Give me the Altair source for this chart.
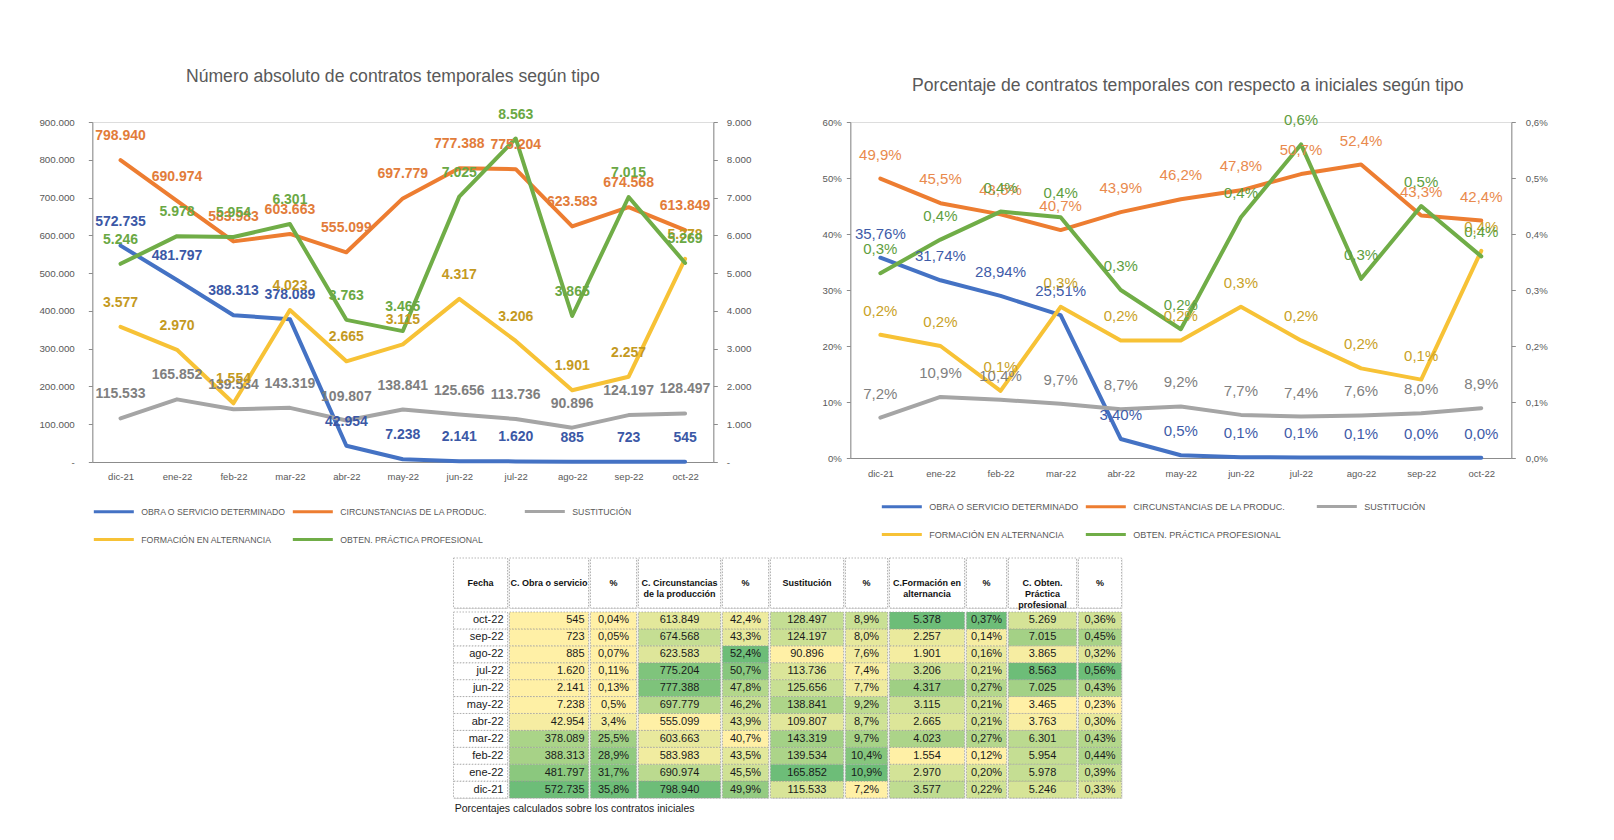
import altair as alt
import pandas as pd

# ---------------- data ----------------
meses = ["dic-21", "ene-22", "feb-22", "mar-22", "abr-22", "may-22",
         "jun-22", "jul-22", "ago-22", "sep-22", "oct-22"]
series = ["OBRA O SERVICIO DETERMINADO", "CIRCUNSTANCIAS DE LA PRODUC.", "SUSTITUCIÓN",
          "FORMACIÓN EN ALTERNANCIA", "OBTEN. PRÁCTICA PROFESIONAL"]

obra = [572735, 481797, 388313, 378089, 42954, 7238, 2141, 1620, 885, 723, 545]
circ = [798940, 690974, 583983, 603663, 555099, 697779, 777388, 775204, 623583, 674568, 613849]
sust = [115533, 165852, 139534, 143319, 109807, 138841, 125656, 113736, 90896, 124197, 128497]
form = [3577, 2970, 1554, 4023, 2665, 3115, 4317, 3206, 1901, 2257, 5378]
obten = [5246, 5978, 5954, 6301, 3763, 3465, 7025, 8563, 3865, 7015, 5269]

obra_pct = [35.76, 31.74, 28.94, 25.51, 3.40, 0.5, 0.13, 0.11, 0.07, 0.05, 0.04]
circ_pct = [49.9, 45.5, 43.5, 40.7, 43.9, 46.2, 47.8, 50.7, 52.4, 43.3, 42.4]
sust_pct = [7.2, 10.9, 10.4, 9.7, 8.7, 9.2, 7.7, 7.4, 7.6, 8.0, 8.9]
form_pct = [0.22, 0.20, 0.12, 0.27, 0.21, 0.21, 0.27, 0.21, 0.16, 0.14, 0.37]
obten_pct = [0.33, 0.39, 0.44, 0.43, 0.30, 0.23, 0.43, 0.56, 0.32, 0.45, 0.36]

obra_pct_etiquetas = ["35,76%", "31,74%", "28,94%", "25,51%", "3,40%", "0,5%",
                      "0,1%", "0,1%", "0,1%", "0,0%", "0,0%"]
obra_pct_tabla = ["35,8%", "31,7%", "28,9%", "25,5%", "3,4%", "0,5%",
                  "0,13%", "0,11%", "0,07%", "0,05%", "0,04%"]

cabeceras = ["Fecha", "C. Obra o servicio", "%", "C. Circunstancias\nde la producción", "%",
             "Sustitución", "%", "C.Formación en\nalternancia", "%",
             "C. Obten.\nPráctica\nprofesional", "%"]

titulo1 = "Número absoluto de contratos temporales según tipo"
titulo2 = "Porcentaje de contratos temporales con respecto a iniciales según tipo"
nota = "Porcentajes calculados sobre los contratos iniciales"

# ---------------- styles ----------------
FONT = "Liberation Sans"
line_colors = ["#4472C4", "#ED7D31", "#A5A5A5", "#F7C236", "#70AD47"]
text_colors = ["#3B58A6", "#E27C3A", "#7F7F7F", "#C49A1F", "#6AA844"]
text_colors2 = ["#3E5BA8", "#E98A4D", "#7F7F7F", "#C9A227", "#5E9E3E"]
heat_range = ["#FFF0A6", "#C4DE93", "#6DBD78"]
col_widths = [54, 79, 46, 82, 46, 73, 42, 75, 40, 68, 43]


def miles(v):
    return f"{v:,}".replace(",", ".")


def pct(v, d):
    return f"{v:.{d}f}".replace(".", ",") + "%"


# ---------------- long tables ----------------
rows1 = []
for s, vals, eje in zip(series, [obra, circ, sust, form, obten], ["izq", "izq", "izq", "der", "der"]):
    for m, v in zip(meses, vals):
        rows1.append({"mes": m, "serie": s, "valor": v, "etiqueta": miles(v), "eje": eje})
df1 = pd.DataFrame(rows1)

labels2 = [obra_pct_etiquetas,
           [pct(v, 1) for v in circ_pct],
           [pct(v, 1) for v in sust_pct],
           [pct(v, 1) for v in form_pct],
           [pct(v, 1) for v in obten_pct]]
rows2 = []
for s, vals, labs, eje in zip(series, [obra_pct, circ_pct, sust_pct, form_pct, obten_pct], labels2,
                              ["izq", "izq", "izq", "der", "der"]):
    for m, v, l in zip(meses, vals, labs):
        rows2.append({"mes": m, "serie": s, "valor": v, "etiqueta": l, "eje": eje})
df2 = pd.DataFrame(rows2)

main_series = [series[0], series[1], series[3], series[4]]
main_colors = [line_colors[0], line_colors[1], line_colors[3], line_colors[4]]


def line_chart(df, w, h, left_dom, right_dom, left_vals, right_vals, left_expr, right_expr,
               tcolors, weight, tsize, lx, lx2, ly, lfont, title, ylabsize, lpad, rpad, xpad):
    base = alt.Chart(df)
    x = alt.X("mes:N", sort=meses, title=None, scale=alt.Scale(padding=0.5),
              axis=alt.Axis(labelAngle=0, labelFontSize=9.5, labelColor="#595959", labelFont=FONT,
                            domainColor="#8C8C8C", ticks=False, labelPadding=xpad))
    leg = dict(title=None, orient="none", legendY=ly, direction="horizontal",
               symbolType="stroke", symbolStrokeWidth=3, symbolSize=1600,
               labelFontSize=lfont, labelColor="#595959", labelFont=FONT, rowPadding=0,
               columnPadding=0, labelOffset=6, labelLimit=400)
    color = alt.Color("serie:N", scale=alt.Scale(domain=main_series, range=main_colors),
                      legend=alt.Legend(legendX=lx, columns=2, **leg))
    stroke = alt.Stroke("serie:N", scale=alt.Scale(domain=[series[2]], range=[line_colors[2]]),
                        legend=alt.Legend(legendX=lx2, columns=1, **leg))
    fill = alt.Fill("serie:N", scale=alt.Scale(domain=series, range=tcolors), legend=None)
    ax = dict(labelFontSize=ylabsize, labelColor="#595959", labelFont=FONT, domainColor="#8C8C8C",
              tickColor="#8C8C8C", tickSize=4, grid=False)
    yl = alt.Y("valor:Q", title=None, scale=alt.Scale(domain=left_dom),
               axis=alt.Axis(orient="left", values=left_vals, labelExpr=left_expr,
                             labelPadding=lpad, **ax))
    yr = alt.Y("valor:Q", title=None, scale=alt.Scale(domain=right_dom),
               axis=alt.Axis(orient="right", values=right_vals, labelExpr=right_expr,
                             labelPadding=rpad, **ax))
    yl_n = alt.Y("valor:Q", scale=alt.Scale(domain=left_dom), axis=None)
    yr_n = alt.Y("valor:Q", scale=alt.Scale(domain=right_dom), axis=None)
    sust_name = series[2]
    izq_main = base.transform_filter(f"datum.eje == 'izq' && datum.serie != '{sust_name}'")
    izq_sust = base.transform_filter(f"datum.serie == '{sust_name}'")
    izq = base.transform_filter("datum.eje == 'izq'")
    der = base.transform_filter("datum.eje == 'der'")
    lk = dict(strokeWidth=4, strokeJoin="round", strokeCap="round")
    tk = dict(dy=-24, fontSize=tsize, fontWeight=weight, font=FONT)
    l1 = izq_main.mark_line(**lk).encode(x=x, y=yl, color=color)
    l1s = izq_sust.mark_line(**lk).encode(x=x, y=yl_n, stroke=stroke)
    l2 = der.mark_line(**lk).encode(x=x, y=yr, color=color)
    t1 = izq.mark_text(**tk).encode(x=x, y=yl_n, text="etiqueta:N", fill=fill)
    t2 = der.mark_text(**tk).encode(x=x, y=yr_n, text="etiqueta:N", fill=fill)
    return alt.layer(l1, l1s, l2, t1, t2).resolve_scale(y="independent").properties(
        width=w, height=h, title=title)


c1 = line_chart(df1, 621, 340, [0, 900000], [0, 9000],
                list(range(0, 900001, 100000)), list(range(0, 9001, 1000)),
                "datum.value == 0 ? '-' : replace(format(datum.value, ','), ',', '.')",
                "datum.value == 0 ? '-' : replace(format(datum.value, ','), ',', '.')",
                text_colors, "bold", 14, 0, 431, 368, 8.7,
                alt.Title(titulo1, fontSize=17.6, fontWeight="normal", color="#595959", font=FONT,
                          anchor="middle", dx=-10, offset=22), 9.8, 14, 9, 9)

c2 = line_chart(df2, 661, 336, [0, 60], [0, 0.6],
                [0, 10, 20, 30, 40, 50, 60], [0, 0.1, 0.2, 0.3, 0.4, 0.5, 0.6],
                "datum.value + '%'",
                "replace(format(datum.value, '.1f'), '.', ',') + '%'",
                text_colors2, "normal", 15, 30, 465, 363, 9,
                alt.Title(titulo2, fontSize=17.6, fontWeight="normal", color="#595959", font=FONT,
                          anchor="middle", dx=7, offset=19), 9.6, 5, 10, 10)

top = alt.hconcat(c1, c2, spacing=69).resolve_scale(
    color="independent", fill="independent", stroke="independent")

# ---------------- table ----------------
fechas_tabla = meses[::-1]
col_values = [None, obra, obra_pct, circ, circ_pct, sust, sust_pct, form, form_pct, obten, obten_pct]
col_texts = [meses,
             [miles(v) for v in obra], obra_pct_tabla,
             [miles(v) for v in circ], [pct(v, 1) for v in circ_pct],
             [miles(v) for v in sust], [pct(v, 1) for v in sust_pct],
             [miles(v) for v in form], [pct(v, 2) for v in form_pct],
             [miles(v) for v in obten], [pct(v, 2) for v in obten_pct]]

band = alt.Scale(paddingInner=0, paddingOuter=0)
cell_stroke = dict(stroke="#9A9A9A", strokeWidth=0.7, strokeDash=[1.5, 1.5])

headers = []
bodies = []
for k in range(11):
    w = col_widths[k]
    hdf = pd.DataFrame({"col": [str(k)], "h": [cabeceras[k]]})
    hb = alt.Chart(hdf)
    hx = alt.X("col:N", axis=None, scale=band)
    hr = hb.mark_rect(fill="white", **cell_stroke).encode(x=hx)
    ht = hb.mark_text(fontWeight="bold", fontSize=9, font=FONT, lineBreak="\n", color="#111",
                      lineHeight=11).encode(x=hx, text="h:N")
    headers.append(alt.layer(hr, ht).properties(width=w, height=50))

    vals = col_values[k]
    bdf = pd.DataFrame({"fecha": meses, "valor": vals if vals is not None else [0] * 11,
                        "texto": col_texts[k], "col": str(k)})
    bb = alt.Chart(bdf)
    yenc = alt.Y("fecha:N", sort=fechas_tabla, axis=None, scale=band)
    bx = alt.X("col:N", axis=None, scale=band)
    if vals is None:
        rect = bb.mark_rect(fill="white", **cell_stroke).encode(x=bx, y=yenc)
    else:
        rect = bb.transform_joinaggregate(vmin="min(valor)", vmax="max(valor)").transform_calculate(
            norm="(datum.valor - datum.vmin) / (datum.vmax - datum.vmin)"
        ).mark_rect(**cell_stroke).encode(
            x=bx, y=yenc,
            color=alt.Color("norm:Q", scale=alt.Scale(domain=[0, 0.5, 1], range=heat_range), legend=None))
    if k in (0, 1):
        txt = bb.mark_text(align="right", dx=-4, fontSize=11, font=FONT, color="#1A1A1A").encode(
            x=alt.X("col:N", axis=None, scale=band, bandPosition=1), y=yenc, text="texto:N")
    else:
        txt = bb.mark_text(align="center", fontSize=11, font=FONT, color="#1A1A1A").encode(
            x=bx, y=yenc, text="texto:N")
    bodies.append(alt.layer(rect, txt).properties(width=w, height=186))

# invisible spacer on the right of the header row (shifts the centred table left)
spacer = alt.Chart(pd.DataFrame({"col": ["s"]})).mark_rect(
    fill="white", fillOpacity=0, strokeOpacity=0, strokeWidth=0).encode(
    x=alt.X("col:N", axis=None, scale=band)).properties(
    width=64, height=50, view=alt.ViewBackground(strokeOpacity=0, strokeWidth=0))
headers.append(spacer)

header_row = alt.hconcat(*headers, spacing=0).resolve_scale(color="independent")
body_row = alt.hconcat(*bodies, spacing=0).resolve_scale(color="independent")
table = alt.vconcat(header_row, body_row, spacing=0,
                    title=alt.Title(nota, orient="bottom", anchor="start", fontSize=10.5,
                                    fontWeight="normal", color="#1A1A1A", font=FONT, offset=5,
                                    dx=2)
                    ).resolve_scale(color="independent")

chart = alt.vconcat(top, table, spacing=10, center=True).resolve_scale(
    color="independent", fill="independent", stroke="independent"
).properties(
    padding={"left": 30, "top": 59, "right": 5, "bottom": 2}
).configure_view(stroke=None, strokeWidth=0).configure(font=FONT, background="white")

chart.save("out.html", embed_options={"renderer": "svg", "actions": False})
